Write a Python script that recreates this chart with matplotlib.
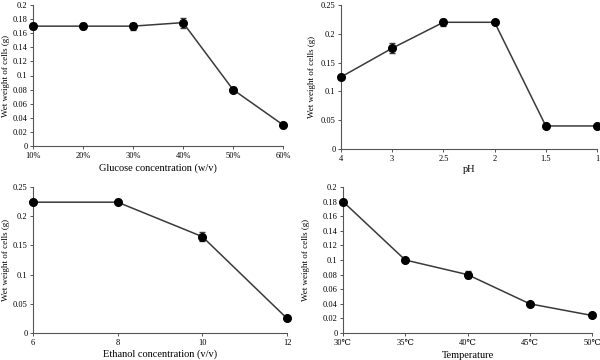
import numpy as np
import matplotlib
matplotlib.use("Agg")
import matplotlib.pyplot as plt

plt.rcParams['font.family'] = ['Liberation Serif', 'DejaVu Serif']

# panel data
glucose_labels = ["10%", "20%", "30%", "40%", "50%", "60%"]
glucose_wt = [0.17, 0.17, 0.17, 0.175, 0.08, 0.03]
glucose_err = [0.004, 0.004, 0.005, 0.007, 0.003, 0.002]

ph_labels = ["4", "3", "2.5", "2", "1.5", "1"]
ph_wt = [0.125, 0.175, 0.22, 0.22, 0.04, 0.04]
ph_err = [0.003, 0.009, 0.006, 0.003, 0.002, 0.003]

ethanol_x = [6, 8, 10, 12]
ethanol_wt = [0.224, 0.224, 0.165, 0.025]
ethanol_err = [0.003, 0.002, 0.008, 0.002]

temp_labels = ["30℃", "35℃", "40℃", "45℃", "50℃"]
temp_wt = [0.18, 0.1, 0.08, 0.04, 0.024]
temp_err = [0.002, 0.003, 0.005, 0.002, 0.002]

W, H = 600, 360
fig = plt.figure(figsize=(6, 3.6), dpi=100)


def box(l, r, top, bot):
    return [l / W, 1 - bot / H, (r - l) / W, (bot - top) / H]


def fmt(v):
    s = ("%.2f" % v).rstrip("0").rstrip(".")
    return s


def panel(rect, x, y, err, xlabels, xlabel, ymax, ystep, ylab_x, xlab_y):
    ax = fig.add_axes(rect)
    ax.errorbar(x, y, yerr=err, color="#3a3a3a", lw=1.1, marker="o",
                ms=5.5, mfc="black", mec="black", ecolor="#3a3a3a",
                elinewidth=0.8, capsize=2, clip_on=False, zorder=3)
    ax.set_xlim(x[0], x[-1])
    ax.set_ylim(0, ymax)
    yt = np.arange(0, ymax + ystep / 2, ystep)
    ax.set_yticks(yt)
    ax.set_yticklabels([fmt(v) for v in yt])
    ax.set_xticks(x)
    ax.set_xticklabels(xlabels)
    for s in ["top", "right"]:
        ax.spines[s].set_visible(False)
    for s in ["left", "bottom"]:
        ax.spines[s].set_color("#555555")
        ax.spines[s].set_linewidth(0.8)
    ax.tick_params(direction="out", length=2.5, width=0.7, color="#555555",
                   labelsize=6, pad=1.5)
    ax.set_xlabel(xlabel, fontsize=7.5)
    ax.set_ylabel("Wet weight of cells (g)", fontsize=6.5)
    ax.yaxis.set_label_coords(ylab_x / W, rect[1] + rect[3] / 2,
                              transform=fig.transFigure)
    ax.xaxis.set_label_coords(rect[0] + rect[2] / 2, 1 - xlab_y / H,
                              transform=fig.transFigure)
    return ax


panel(box(33, 283, 5, 146), list(range(len(glucose_labels))), glucose_wt,
      glucose_err, glucose_labels, "Glucose concentration (w/v)", 0.2, 0.02,
      10, 163)
panel(box(341, 597, 5, 149), list(range(len(ph_labels))), ph_wt,
      ph_err, ph_labels, "pH", 0.25, 0.05, 316, 165)
panel(box(33, 287, 187, 333), ethanol_x, ethanol_wt, ethanol_err,
      [str(v) for v in ethanol_x], "Ethanol concentration (v/v)", 0.25, 0.05,
      10, 349)
panel(box(343, 592, 187, 333), list(range(len(temp_labels))), temp_wt,
      temp_err, temp_labels, "Temperature", 0.2, 0.02, 310, 351)

fig.savefig("out.png", dpi=100)
